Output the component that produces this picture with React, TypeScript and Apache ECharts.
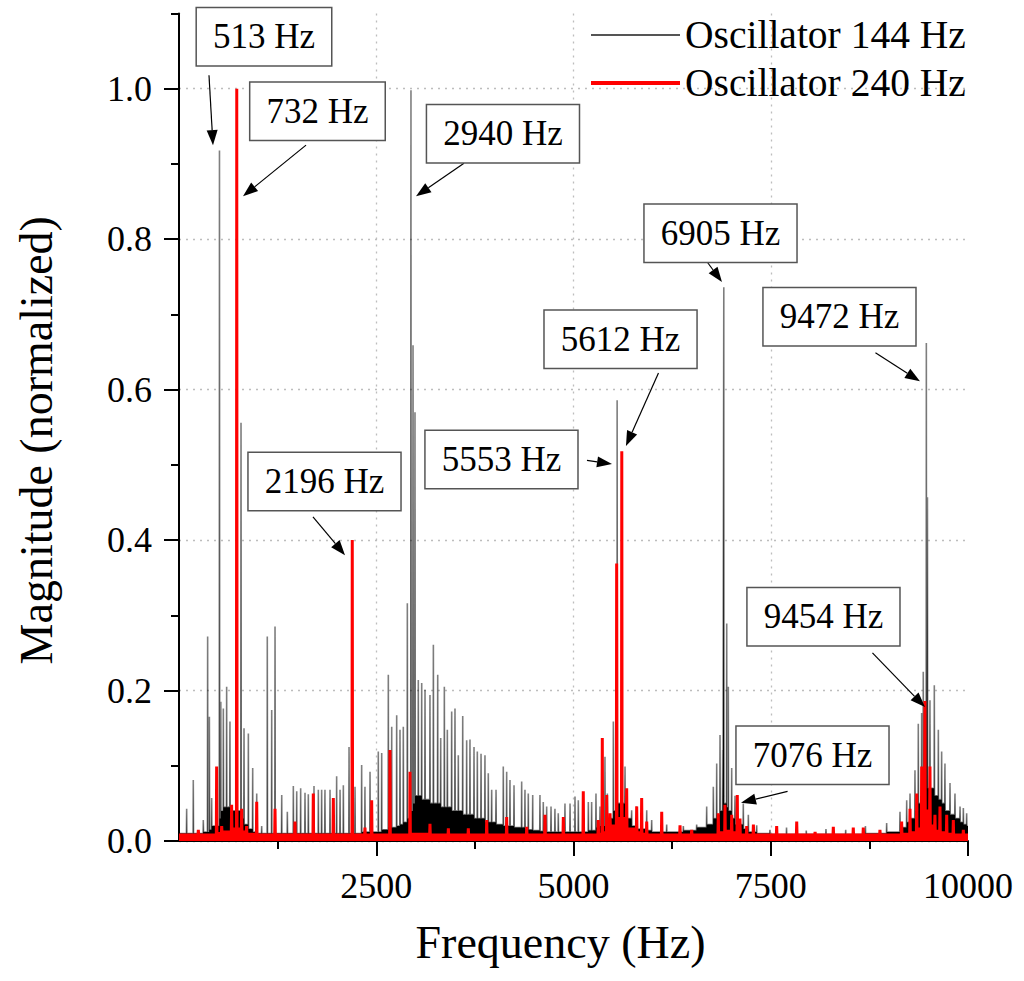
import React, { useEffect, useRef } from "react";
import * as echarts from "echarts";

const FONT = '"Liberation Serif", "Times New Roman", Times, serif';

// ---- Oscillator 144 Hz (black): spectral lines ----
const osc144Freq = [
  97, 181, 308, 363, 385, 414, 513, 530, 562, 604, 646, 786, 824, 879, 934, 985, 1048, 1119, 1175, 1217,
  1302, 1373, 1449, 1492, 1542, 1597, 1639, 1711, 1766, 1808, 1850, 1914, 1998, 2041, 2083, 2155, 2231, 2315, 2357, 2421,
  2526, 2569, 2653, 2696, 2759, 2801, 2843, 2894, 2940, 2966, 2991, 3033, 3076, 3118, 3181, 3224, 3279, 3317, 3363, 3401,
  3456, 3498, 3540, 3596, 3646, 3688, 3739, 3781, 3828, 3878, 3920, 3963, 4018, 4110, 4153, 4195, 4246, 4343, 4385, 4427,
  4483, 4575, 4617, 4660, 4715, 4765, 4807, 4892, 4956, 5019, 5061, 5188, 5230, 5285, 5336, 5399, 5429, 5505, 5553, 5653,
  5737, 5801, 5928, 5991, 6181, 6392, 6561, 6688, 6772, 6815, 6857, 6891, 6905, 6942, 6962, 7005, 7047, 7152, 7216, 7322,
  7490, 7700, 7950, 8200, 8450, 8700, 8969, 9138, 9223, 9265, 9328, 9370, 9413, 9433, 9472, 9486, 9518, 9573, 9624, 9666,
  9708, 9772, 9835, 9899, 9941, 9983,
];
const osc144Peak = [
  0.043, 0.081, 0.028, 0.272, 0.165, 0.057, 0.918, 0.185, 0.176, 0.205, 0.159, 0.556, 0.15, 0.143, 0.097, 0.063, 0.02, 0.272, 0.174, 0.285,
  0.061, 0.039, 0.073, 0.066, 0.07, 0.064, 0.062, 0.073, 0.068, 0.068, 0.068, 0.068, 0.086, 0.068, 0.074, 0.125, 0.072, 0.101, 0.072, 0.092,
  0.119, 0.117, 0.221, 0.152, 0.167, 0.148, 0.152, 0.316, 0.998, 0.659, 0.57, 0.214, 0.21, 0.201, 0.194, 0.261, 0.221, 0.137, 0.205, 0.148,
  0.172, 0.176, 0.114, 0.166, 0.134, 0.135, 0.125, 0.119, 0.116, 0.114, 0.09, 0.068, 0.068, 0.099, 0.092, 0.081, 0.074, 0.079, 0.068, 0.063,
  0.061, 0.061, 0.052, 0.046, 0.046, 0.043, 0.037, 0.05, 0.05, 0.059, 0.054, 0.052, 0.052, 0.063, 0.046, 0.112, 0.063, 0.159, 0.586, 0.099,
  0.041, 0.046, 0.041, 0.028, 0.022, 0.02, 0.022, 0.046, 0.072, 0.103, 0.141, 0.121, 0.736, 0.289, 0.205, 0.097, 0.06, 0.05, 0.035, 0.021,
  0.015, 0.018, 0.014, 0.016, 0.015, 0.02, 0.024, 0.039, 0.054, 0.063, 0.094, 0.156, 0.17, 0.225, 0.662, 0.457, 0.187, 0.207, 0.148, 0.119,
  0.103, 0.077, 0.063, 0.046, 0.044, 0.037,
];
const osc144Floor = [
  0.01, 0.01, 0.012, 0.012, 0.015, 0.02, 0.03, 0.04, 0.045, 0.045, 0.04, 0.03, 0.022, 0.016, 0.012, 0.01, 0.01, 0.01, 0.01, 0.01,
  0.01, 0.01, 0.01, 0.01, 0.01, 0.01, 0.01, 0.01, 0.01, 0.01, 0.01, 0.01, 0.01, 0.01, 0.01, 0.01, 0.01, 0.012, 0.012, 0.012,
  0.012, 0.015, 0.018, 0.018, 0.02, 0.022, 0.025, 0.03, 0.04, 0.05, 0.06, 0.06, 0.055, 0.055, 0.05, 0.05, 0.05, 0.045, 0.045, 0.045,
  0.04, 0.04, 0.04, 0.035, 0.035, 0.035, 0.03, 0.03, 0.03, 0.025, 0.025, 0.025, 0.022, 0.02, 0.02, 0.02, 0.018, 0.018, 0.016, 0.015,
  0.014, 0.013, 0.012, 0.012, 0.012, 0.012, 0.012, 0.012, 0.012, 0.012, 0.012, 0.014, 0.014, 0.018, 0.02, 0.025, 0.03, 0.04, 0.05, 0.03,
  0.02, 0.016, 0.014, 0.012, 0.012, 0.014, 0.018, 0.022, 0.03, 0.035, 0.04, 0.045, 0.05, 0.045, 0.04, 0.03, 0.022, 0.016, 0.012, 0.01,
  0.009, 0.009, 0.009, 0.009, 0.009, 0.01, 0.012, 0.018, 0.025, 0.03, 0.04, 0.05, 0.06, 0.07, 0.08, 0.07, 0.07, 0.06, 0.055, 0.05,
  0.04, 0.035, 0.03, 0.025, 0.022, 0.02,
];

// ---- Oscillator 240 Hz (red) ----
const osc240Freq = [
  55, 245, 477, 541, 667, 732, 794, 857, 985, 1217, 1470, 1702, 1956, 2196, 2357, 2442, 2674, 2928, 3181, 3414,
  3667, 3900, 4153, 4407, 4639, 4871, 5124, 5314, 5365, 5421, 5463, 5547, 5612, 5674, 5801, 5864, 5928, 6118, 6350, 6498,
  6835, 6920, 7005, 7076, 7110, 7195, 7280, 7575, 7829, 8062, 8293, 8546, 8673, 8884, 9159, 9265, 9350, 9413, 9454, 9518,
  9581, 9645, 9730, 9814, 9941,
];
const osc240Peak = [
  0.008, 0.015, 0.099, 0.02, 0.048, 1.0, 0.043, 0.02, 0.052, 0.043, 0.026, 0.063, 0.057, 0.4, 0.018, 0.054, 0.121, 0.092, 0.023, 0.017,
  0.017, 0.028, 0.032, 0.019, 0.035, 0.032, 0.066, 0.028, 0.137, 0.061, 0.037, 0.369, 0.518, 0.07, 0.046, 0.057, 0.026, 0.039, 0.021, 0.015,
  0.037, 0.048, 0.035, 0.061, 0.03, 0.02, 0.022, 0.02, 0.026, 0.012, 0.019, 0.018, 0.018, 0.015, 0.026, 0.043, 0.063, 0.099, 0.186, 0.099,
  0.035, 0.046, 0.035, 0.028, 0.015,
];
const osc240Floor = [
  0.008, 0.008, 0.01, 0.012, 0.016, 0.016, 0.012, 0.009, 0.008, 0.008, 0.008, 0.008, 0.008, 0.008, 0.008, 0.008, 0.008, 0.009, 0.008, 0.008,
  0.008, 0.008, 0.008, 0.008, 0.008, 0.008, 0.008, 0.009, 0.011, 0.016, 0.02, 0.03, 0.03, 0.016, 0.011, 0.009, 0.008, 0.008, 0.008, 0.008,
  0.011, 0.013, 0.011, 0.009, 0.008, 0.008, 0.008, 0.008, 0.008, 0.008, 0.008, 0.008, 0.008, 0.008, 0.009, 0.011, 0.016, 0.03, 0.04, 0.02,
  0.013, 0.011, 0.009, 0.008, 0.008,
];

// ---- axis ticks ----
const xTickValues = [2500, 5000, 7500, 10000];
const xGridValues = [2500, 5000, 7500];
const yTickValues = [0, 0.2, 0.4, 0.6, 0.8, 1.0];

// ---- annotations (data coordinates: [frequency, magnitude]) ----
const annotationText = ["513 Hz", "732 Hz", "2940 Hz", "5612 Hz", "5553 Hz", "6905 Hz", "9472 Hz", "2196 Hz", "9454 Hz", "7076 Hz"];
const annotationBox = [
  [1077, 1.069], [1755, 0.97], [4106, 0.94], [5596, 0.667], [4087, 0.507],
  [6863, 0.808], [8371, 0.697], [1844, 0.478], [8168, 0.298], [8029, 0.114],
];
const annotationTail = [
  [380, 1.018], [1610, 0.925], [3612, 0.901], [6077, 0.622], [5171, 0.506],
  [6692, 0.77], [8827, 0.649], [1698, 0.431], [8789, 0.25], [7713, 0.066],
];
const annotationTip = [
  [431, 0.925], [811, 0.857], [3004, 0.857], [5665, 0.525], [5488, 0.501],
  [6882, 0.743], [9391, 0.611], [2104, 0.38], [9455, 0.178], [7123, 0.051],
];

function buildSpectrum(freq: number[], peak: number[], floor: number[], half: number) {
  const pts: number[][] = [[0, floor[0]]];
  let prev = floor[0];
  for (let i = 0; i < freq.length; i++) {
    pts.push([freq[i] - half, prev], [freq[i], peak[i]], [freq[i] + half, floor[i]]);
    prev = floor[i];
  }
  pts.push([10000, prev]);
  return pts;
}

export default function App() {
  const ref = useRef<HTMLDivElement>(null);

  useEffect(() => {
    if (!ref.current) return;
    const chart = echarts.init(ref.current, undefined, { renderer: "svg" });
    const tickStyle = { color: "#000", width: 2 };
    const gridLine = { color: "#bdbdbd", width: 1.3, type: [2, 5] as any };

    chart.setOption({
      animation: false,
      backgroundColor: "#fff",
      grid: { left: 179, right: 56, top: 13.5, bottom: 140 },
      legend: {
        orient: "vertical",
        left: 584,
        top: 10,
        itemWidth: 89,
        itemHeight: 20,
        itemGap: 8,
        textStyle: { fontFamily: FONT, fontSize: 39.5, color: "#000", lineHeight: 40 },
        data: [
          { name: "Oscillator 144 Hz", lineStyle: { color: "#555", width: 2 }, itemStyle: { opacity: 0 } },
          { name: "Oscillator 240 Hz", lineStyle: { color: "#ff0000", width: 4 }, itemStyle: { opacity: 0 } },
        ],
      },
      xAxis: [
        {
          type: "value",
          min: 0,
          max: 10000,
          interval: 2500,
          position: "bottom",
          name: "Frequency (Hz)",
          nameLocation: "middle",
          nameGap: 78,
          nameTextStyle: { fontFamily: FONT, fontSize: 46, color: "#000", padding: [0, 26, 0, 0] },
          axisLine: { show: true, onZero: false, lineStyle: tickStyle },
          axisTick: { show: true, length: 15, lineStyle: tickStyle, customValues: xTickValues },
          minorTick: { show: true, splitNumber: 2, length: 8, lineStyle: tickStyle },
          axisLabel: {
            fontFamily: FONT,
            fontSize: 36,
            color: "#000",
            margin: 27,
            customValues: xTickValues,
            formatter: (v: number) => String(v),
          },
          splitLine: { show: false },
        },
        {
          type: "value",
          min: 0,
          max: 10000,
          interval: 2500,
          position: "top",
          axisLine: { show: false },
          axisTick: { show: false, customValues: xGridValues },
          axisLabel: { show: false, customValues: xGridValues },
          splitLine: { show: true, lineStyle: gridLine },
        },
      ],
      yAxis: [
        {
          type: "value",
          min: 0,
          max: 1.1,
          interval: 0.1,
          position: "left",
          axisLine: { show: true, onZero: false, lineStyle: tickStyle },
          axisTick: { show: true, length: 8, lineStyle: tickStyle },
          axisLabel: { show: false },
          splitLine: { show: false },
        },
        {
          type: "value",
          min: 0,
          max: 1.1,
          interval: 0.2,
          position: "left",
          name: "Magnitude (normalized)",
          nameLocation: "middle",
          nameGap: 120,
          nameTextStyle: { fontFamily: FONT, fontSize: 46, color: "#000", padding: [0, 26, 0, 0] },
          axisLine: { show: false },
          axisTick: { show: true, length: 15, lineStyle: tickStyle, customValues: yTickValues },
          axisLabel: {
            fontFamily: FONT,
            fontSize: 36,
            color: "#000",
            margin: 27,
            customValues: yTickValues,
            formatter: (v: number) => v.toFixed(1),
          },
          splitLine: { show: true, lineStyle: gridLine },
        },
      ],
      series: [
        {
          name: "Oscillator 144 Hz",
          type: "line",
          xAxisIndex: 0,
          yAxisIndex: 0,
          symbol: "none",
          data: buildSpectrum(osc144Freq, osc144Peak, osc144Floor, 3),
          lineStyle: { color: "rgba(0,0,0,0.5)", width: 1.6 },
          itemStyle: { color: "#555" },
          areaStyle: { color: "#000", opacity: 1 },
          z: 2,
        },
        {
          name: "Oscillator 240 Hz",
          type: "line",
          xAxisIndex: 0,
          yAxisIndex: 0,
          symbol: "none",
          data: buildSpectrum(osc240Freq, osc240Peak, osc240Floor, 4),
          lineStyle: { color: "#ff0000", width: 3 },
          itemStyle: { color: "#ff0000" },
          areaStyle: { color: "#ff0000", opacity: 1 },
          z: 3,
        },
      ],
    });

    const toPx = (p: number[]) => chart.convertToPixel({ xAxisIndex: 0, yAxisIndex: 0 }, p) as number[];
    const elements: any[] = [];
    for (let i = 0; i < annotationText.length; i++) {
      const c = toPx(annotationBox[i]);
      const t = toPx(annotationTail[i]);
      const h = toPx(annotationTip[i]);
      const dx = h[0] - t[0];
      const dy = h[1] - t[1];
      const len = Math.sqrt(dx * dx + dy * dy) || 1;
      const ux = dx / len;
      const uy = dy / len;
      const headLen = 15;
      const headHalf = 5.5;
      const bx = h[0] - ux * headLen;
      const by = h[1] - uy * headLen;
      elements.push({
        type: "line",
        z: 100,
        shape: { x1: t[0], y1: t[1], x2: bx, y2: by },
        style: { stroke: "#000", lineWidth: 1.2 },
      });
      elements.push({
        type: "polygon",
        z: 100,
        shape: {
          points: [
            [h[0], h[1]],
            [bx - uy * headHalf, by + ux * headHalf],
            [bx + uy * headHalf, by - ux * headHalf],
          ],
        },
        style: { fill: "#000" },
      });
      elements.push({
        type: "text",
        z: 101,
        x: c[0],
        y: c[1],
        style: {
          text: annotationText[i],
          fontFamily: FONT,
          fontSize: 35,
          lineHeight: 35,
          fill: "#000",
          align: "center",
          verticalAlign: "middle",
          backgroundColor: "#fff",
          borderColor: "#555",
          borderWidth: 1.5,
          padding: [11, 16, 11, 16],
        },
      });
    }
    chart.setOption({ graphic: { elements } });

    return () => chart.dispose();
  }, []);

  return (
    <div
      ref={ref}
      style={{ position: "fixed", left: 0, top: 0, width: 1024, height: 981, background: "#fff" }}
    />
  );
}
